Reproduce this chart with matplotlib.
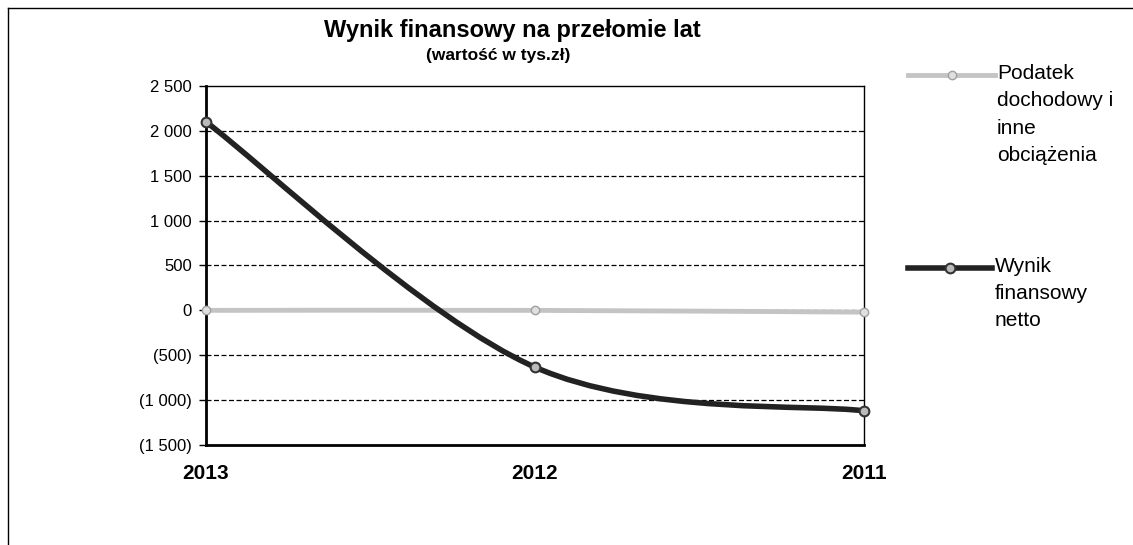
import matplotlib.pyplot as plt
import numpy as np
from matplotlib.path import Path
from matplotlib.patches import PathPatch
from matplotlib.lines import Line2D

plt.rcParams['font.family'] = ['Liberation Sans', 'DejaVu Sans']

years = ['2013', '2012', '2011']
wynik = [2100, -633, -1120]
podatek = [0, 0, -20]
y_ticks = [2500, 2000, 1500, 1000, 500, 0, -500, -1000, -1500]
y_labels = ['2 500', '2 000', '1 500', '1 000', '500', '0', '(500)', '(1 000)', '(1 500)']


def smooth_path(xs, ys):
    # Excel-style smoothed line: cubic bezier segments through the points
    pts = np.column_stack([xs, ys]).astype(float)
    ext = np.vstack([pts[0], pts, pts[-1]])
    verts = [pts[0]]
    codes = [Path.MOVETO]
    for i in range(len(pts) - 1):
        p0, p1, p2, p3 = ext[i], ext[i + 1], ext[i + 2], ext[i + 3]
        verts += [p1 + (p2 - p0) / 6, p2 - (p3 - p1) / 6, p2]
        codes += [Path.CURVE4] * 3
    return Path(verts, codes)


fig = plt.figure(figsize=(11.33, 5.45), dpi=100)
ax = fig.add_axes([0.1818, 0.1835, 0.5808, 0.6587])

x = np.arange(len(years))

for yv in y_ticks[1:-1]:
    ax.axhline(yv, color='black', lw=0.9, ls=(0, (4, 2)), zorder=1)

ax.add_patch(PathPatch(smooth_path(x, podatek), fill=False, ec='#c4c4c4', lw=3.5, zorder=3, clip_on=False))
ax.plot(x, podatek, ls='none', marker='o', ms=6, mfc='#e0e0e0', mec='#a0a0a0', zorder=4, clip_on=False)
ax.add_patch(PathPatch(smooth_path(x, wynik), fill=False, ec='#222222', lw=4, zorder=5, clip_on=False))
ax.plot(x, wynik, ls='none', marker='o', ms=7, mfc='#bbbbbb', mec='#333333', mew=1.5, zorder=6, clip_on=False)

ax.set_xlim(0, 2)
ax.set_ylim(-1500, 2500)
ax.set_yticks(y_ticks)
ax.set_yticklabels(y_labels, fontsize=12)
ax.set_xticks(x)
ax.set_xticklabels(years, fontsize=15, fontweight='bold')
ax.tick_params(axis='x', length=0, pad=14)
ax.tick_params(axis='y', length=5, width=1, pad=5)
for s in ['left', 'bottom']:
    ax.spines[s].set_linewidth(2)
for s in ['top', 'right']:
    ax.spines[s].set_linewidth(1)

fig.text(512 / 1133, 1 - 30 / 545, 'Wynik finansowy na przełomie lat', ha='center', va='center',
         fontsize=17, fontweight='bold')
fig.text(498 / 1133, 1 - 55 / 545, '(wartość w tys.zł)', ha='center', va='center',
         fontsize=12.5, fontweight='bold')

# legend
W, H = 1133, 545
fig.add_artist(Line2D([908 / W, 995 / W], [1 - 75 / H] * 2, color='#c4c4c4', lw=3.5))
fig.add_artist(Line2D([952 / W], [1 - 75 / H], ls='none', marker='o', ms=6,
                      mfc='#e0e0e0', mec='#a0a0a0'))
fig.add_artist(Line2D([908 / W, 992 / W], [1 - 268 / H] * 2, color='#222222', lw=4))
fig.add_artist(Line2D([950 / W], [1 - 268 / H], ls='none', marker='o', ms=7,
                      mfc='#bbbbbb', mec='#333333', mew=1.5))
fig.text(997 / W, 1 - 64 / H, 'Podatek\ndochodowy i\ninne\nobciążenia', ha='left', va='top',
         fontsize=15, linespacing=1.55)
fig.text(995 / W, 1 - 257 / H, 'Wynik\nfinansowy\nnetto', ha='left', va='top',
         fontsize=15, linespacing=1.55)

# outer frame
fig.add_artist(Line2D([8 / W, 8 / W], [1 - 8 / H, 0], color='black', lw=1))
fig.add_artist(Line2D([8 / W, 1], [1 - 8 / H, 1 - 8 / H], color='black', lw=1))

fig.savefig('out.png', dpi=100)
